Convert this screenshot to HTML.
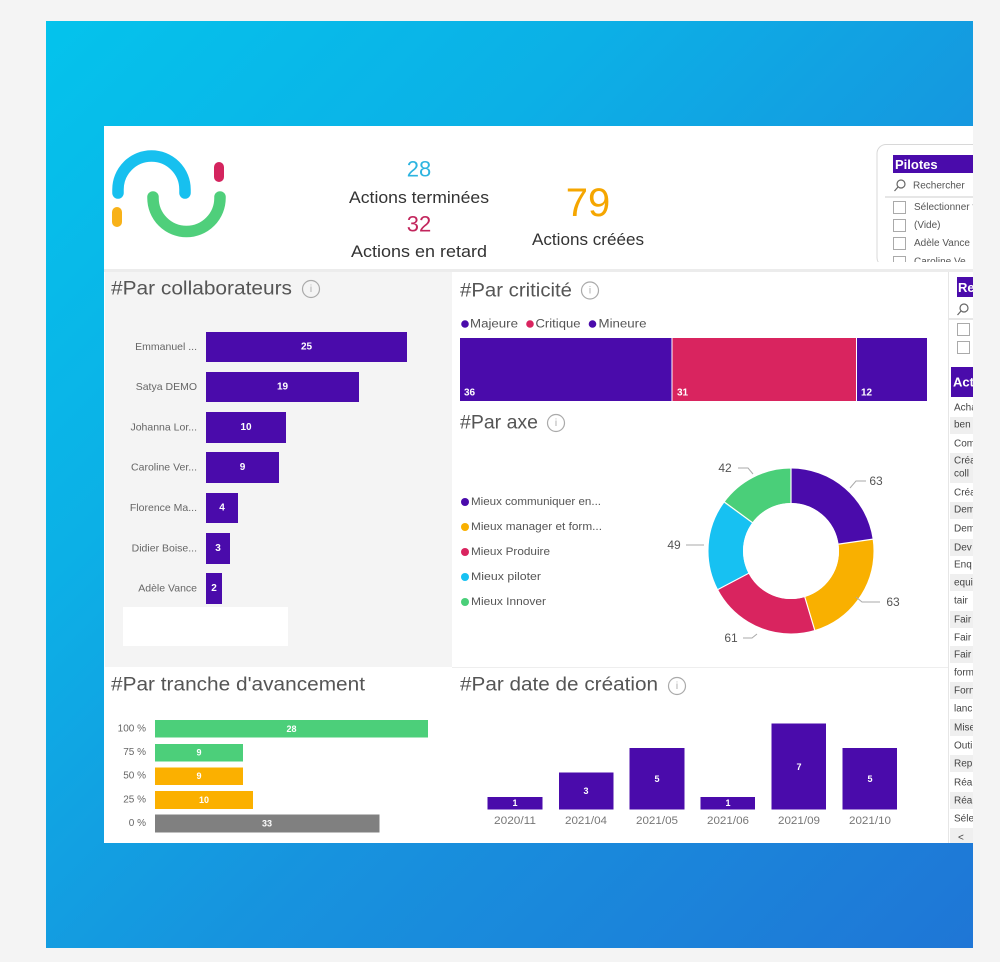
<!DOCTYPE html>
<html><head><meta charset="utf-8"><style>
*{margin:0;padding:0;box-sizing:border-box}
html,body{width:1000px;height:962px;background:#f4f4f4;overflow:hidden}
svg{display:block}
</style></head><body>
<svg width="1000" height="962" viewBox="0 0 1000 962" font-family="Liberation Sans, sans-serif">
<defs>
<linearGradient id="bg" x1="0" y1="0" x2="1" y2="1">
<stop offset="0" stop-color="#04c3ec"/>
<stop offset="0.3" stop-color="#0cb0e6"/>
<stop offset="0.6" stop-color="#1793de"/>
<stop offset="1" stop-color="#1f76d6"/>
</linearGradient>
<clipPath id="c"><rect x="104" y="126" width="869" height="717"/></clipPath>
</defs>
<rect width="1000" height="962" fill="#f4f4f4"/>
<rect x="46" y="21" width="927" height="927" fill="url(#bg)"/>
<g clip-path="url(#c)">
<rect x="104" y="126" width="869" height="717" fill="#fff"/>

<!-- logo -->
<path d="M118,193 L118,189.5 A33.5,33.5 0 0 1 185,189.5 L185,193" stroke="#17c0ef" stroke-width="11.5" fill="none" stroke-linecap="round"/>
<path d="M153,197 L153,198 A33.5,33.5 0 0 0 220,198 L220,197" stroke="#4fcf7b" stroke-width="11.5" fill="none" stroke-linecap="round"/>
<line x1="219" y1="167" x2="219" y2="177" stroke="#d4245e" stroke-width="10" stroke-linecap="round"/>
<line x1="117" y1="212" x2="117" y2="222" stroke="#f8b219" stroke-width="10" stroke-linecap="round"/>

<!-- KPIs -->
<g text-anchor="middle" dominant-baseline="central">
<text x="419" y="169" font-size="22" fill="#2db4e0">28</text>
<text x="419" y="198" font-size="16.5" fill="#333" textLength="140" lengthAdjust="spacingAndGlyphs">Actions terminées</text>
<text x="419" y="224" font-size="22" fill="#c2255c">32</text>
<text x="419" y="252" font-size="16.5" fill="#333" textLength="136" lengthAdjust="spacingAndGlyphs">Actions en retard</text>
<text x="588" y="203" font-size="40" fill="#f5a600">79</text>
<text x="588" y="240" font-size="16.5" fill="#333" textLength="112" lengthAdjust="spacingAndGlyphs">Actions créées</text>
</g>

<!-- Pilotes slicer -->
<rect x="877" y="144.5" width="130" height="122" rx="9" fill="#fff" stroke="#d8d8d8"/>
<rect x="893" y="155" width="90" height="18" fill="#4a0bab"/>
<text x="895" y="164.5" font-size="13" font-weight="bold" fill="#fff" dominant-baseline="central">Pilotes</text>
<circle cx="901" cy="184" r="4" fill="none" stroke="#666" stroke-width="1.2"/>
<line x1="898" y1="187" x2="894.5" y2="191" stroke="#666" stroke-width="1.2"/>
<text x="913" y="186" font-size="10" fill="#555" dominant-baseline="central">Rechercher</text>
<line x1="885" y1="197" x2="973" y2="197" stroke="#ccc"/>
<g fill="#fff" stroke="#aaa">
<rect x="893.5" y="201.5" width="12" height="12"/>
<rect x="893.5" y="219.5" width="12" height="12"/>
<rect x="893.5" y="237.5" width="12" height="12"/>
<rect x="893.5" y="256.5" width="12" height="12"/>
</g>
<g font-size="10" fill="#555" dominant-baseline="central">
<text x="914" y="207.5">Sélectionner tout</text>
<text x="914" y="225.5">(Vide)</text>
<text x="914" y="243.5">Adèle Vance</text>
<text x="914" y="262">Caroline Ve</text>
</g>
<rect x="877" y="262" width="100" height="8" fill="#fff"/>

<!-- separators -->
<rect x="104" y="269" width="869" height="3" fill="#ececec"/>
<line x1="948.5" y1="272" x2="948.5" y2="843" stroke="#e6e6e6"/>
<line x1="452" y1="667.5" x2="948" y2="667.5" stroke="#eeeeee"/>

<!-- Left gray panel -->
<rect x="105" y="272" width="347" height="395" fill="#f4f4f4"/>
<text x="111" y="289" font-size="19" fill="#555" dominant-baseline="central" textLength="181" lengthAdjust="spacingAndGlyphs">#Par collaborateurs</text>
<circle cx="311" cy="289" r="8.5" fill="none" stroke="#aaa" stroke-width="1.2"/>
<text x="311" y="289.5" font-size="10" fill="#aaa" text-anchor="middle" dominant-baseline="central">i</text>

<g fill="#4a0bab">
<rect x="206" y="332" width="201" height="30"/>
<rect x="206" y="372" width="153" height="30"/>
<rect x="206" y="412" width="80" height="31"/>
<rect x="206" y="452" width="73" height="31"/>
<rect x="206" y="493" width="32" height="30"/>
<rect x="206" y="533" width="24" height="31"/>
<rect x="206" y="573" width="16" height="31"/>
</g>
<g font-size="10.5" fill="#666" text-anchor="end" dominant-baseline="central">
<text x="197" y="347">Emmanuel ...</text>
<text x="197" y="387">Satya DEMO</text>
<text x="197" y="427.5">Johanna Lor...</text>
<text x="197" y="467.5">Caroline Ver...</text>
<text x="197" y="508">Florence Ma...</text>
<text x="197" y="548.5">Didier Boise...</text>
<text x="197" y="588.5">Adèle Vance</text>
</g>
<g font-size="10" font-weight="bold" fill="#fff" text-anchor="middle" dominant-baseline="central">
<text x="306.5" y="347">25</text>
<text x="282.5" y="387">19</text>
<text x="246" y="427.5">10</text>
<text x="242.5" y="467.5">9</text>
<text x="222" y="508">4</text>
<text x="218" y="548.5">3</text>
<text x="214" y="588.5">2</text>
</g>
<rect x="123" y="607" width="165" height="39" fill="#fff"/>

<!-- Criticité -->
<text x="460" y="291" font-size="19" fill="#555" dominant-baseline="central" textLength="112" lengthAdjust="spacingAndGlyphs">#Par criticité</text>
<circle cx="590" cy="290.5" r="8.5" fill="none" stroke="#aaa" stroke-width="1.2"/>
<text x="590" y="291" font-size="10" fill="#aaa" text-anchor="middle" dominant-baseline="central">i</text>
<circle cx="465" cy="324" r="3.8" fill="#4a0bab"/>
<circle cx="530" cy="324" r="3.8" fill="#d9245f"/>
<circle cx="592.5" cy="324" r="3.8" fill="#4a0bab"/>
<g font-size="11.5" fill="#555" dominant-baseline="central">
<text x="470" y="324.5" textLength="48" lengthAdjust="spacingAndGlyphs">Majeure</text>
<text x="535.5" y="324.5" textLength="45" lengthAdjust="spacingAndGlyphs">Critique</text>
<text x="598.5" y="324.5" textLength="48" lengthAdjust="spacingAndGlyphs">Mineure</text>
</g>
<rect x="460" y="338" width="211.5" height="63" fill="#4a0bab"/>
<rect x="672.5" y="338" width="183.5" height="63" fill="#d9245f"/>
<rect x="857" y="338" width="70" height="63" fill="#4a0bab"/>
<g font-size="10" font-weight="bold" fill="#fff" dominant-baseline="central">
<text x="464" y="393">36</text>
<text x="677" y="393">31</text>
<text x="861" y="393">12</text>
</g>

<!-- Par axe -->
<text x="460" y="423" font-size="19" fill="#555" dominant-baseline="central" textLength="78" lengthAdjust="spacingAndGlyphs">#Par axe</text>
<circle cx="556" cy="423" r="8.5" fill="none" stroke="#aaa" stroke-width="1.2"/>
<text x="556" y="423.5" font-size="10" fill="#aaa" text-anchor="middle" dominant-baseline="central">i</text>
<g font-size="11" fill="#555" dominant-baseline="central">
<circle cx="465" cy="502" r="4" fill="#4a0bab"/><text x="471" y="502" textLength="130" lengthAdjust="spacingAndGlyphs">Mieux communiquer en...</text>
<circle cx="465" cy="527" r="4" fill="#f9b000"/><text x="471" y="527" textLength="131" lengthAdjust="spacingAndGlyphs">Mieux manager et form...</text>
<circle cx="465" cy="552" r="4" fill="#d9245f"/><text x="471" y="552" textLength="79" lengthAdjust="spacingAndGlyphs">Mieux Produire</text>
<circle cx="465" cy="577" r="4" fill="#17c1f2"/><text x="471" y="577" textLength="70" lengthAdjust="spacingAndGlyphs">Mieux piloter</text>
<circle cx="465" cy="602" r="4" fill="#4acf79"/><text x="471" y="602" textLength="75" lengthAdjust="spacingAndGlyphs">Mieux Innover</text>
</g>
<g transform="rotate(-90 791 551)" fill="none" stroke-width="34.5">
<circle cx="791" cy="551" r="65.25" stroke="#4a0bab" stroke-dasharray="92.91 317.07" stroke-dashoffset="0"/>
<circle cx="791" cy="551" r="65.25" stroke="#f9b000" stroke-dasharray="92.91 317.07" stroke-dashoffset="-92.91"/>
<circle cx="791" cy="551" r="65.25" stroke="#d9245f" stroke-dasharray="89.96 320.02" stroke-dashoffset="-185.82"/>
<circle cx="791" cy="551" r="65.25" stroke="#17c1f2" stroke-dasharray="72.27 337.71" stroke-dashoffset="-275.78"/>
<circle cx="791" cy="551" r="65.25" stroke="#4acf79" stroke-dasharray="61.94 348.04" stroke-dashoffset="-348.05"/>
</g>
<g stroke="#fff" stroke-width="1.2">
<line x1="791" y1="551" x2="791" y2="467"/>
<line x1="791" y1="551" x2="874" y2="539"/>
<line x1="791" y1="551" x2="815" y2="631"/>
<line x1="791" y1="551" x2="717" y2="590"/>
<line x1="791" y1="551" x2="723" y2="501"/>
</g>
<circle cx="791" cy="551" r="48" fill="#fff"/>
<g stroke="#aaa" stroke-width="1" fill="none">
<polyline points="850,488 856,481 866,481"/>
<polyline points="856,597 862,602 880,602"/>
<polyline points="757,634 752,638 743,638"/>
<polyline points="704,545 686,545"/>
<polyline points="738,468 748,468 753,474"/>
</g>
<g font-size="12" fill="#555" dominant-baseline="central" text-anchor="middle">
<text x="876" y="481">63</text>
<text x="893" y="602">63</text>
<text x="731" y="638">61</text>
<text x="674" y="545">49</text>
<text x="725" y="468">42</text>
</g>

<!-- Tranche d'avancement -->
<text x="111" y="685" font-size="19" fill="#555" dominant-baseline="central" textLength="254" lengthAdjust="spacingAndGlyphs">#Par tranche d'avancement</text>
<rect x="155" y="720" width="273" height="17.5" fill="#4ccf7a"/>
<rect x="155" y="744" width="88" height="17.5" fill="#4ccf7a"/>
<rect x="155" y="767.5" width="88" height="17.5" fill="#fbb000"/>
<rect x="155" y="791" width="98" height="18" fill="#fbb000"/>
<rect x="155" y="814.5" width="224.5" height="18" fill="#808080"/>
<g font-size="10" fill="#666" text-anchor="end" dominant-baseline="central">
<text x="146" y="729">100 %</text>
<text x="146" y="752.5">75 %</text>
<text x="146" y="776">50 %</text>
<text x="146" y="800">25 %</text>
<text x="146" y="823.5">0 %</text>
</g>
<g font-size="9" font-weight="bold" fill="#fff" text-anchor="middle" dominant-baseline="central">
<text x="291.5" y="729">28</text>
<text x="199" y="752.5">9</text>
<text x="199" y="776">9</text>
<text x="204" y="800">10</text>
<text x="267" y="823.5">33</text>
</g>

<!-- Par date de création -->
<text x="460" y="685" font-size="19" fill="#555" dominant-baseline="central" textLength="198" lengthAdjust="spacingAndGlyphs">#Par date de création</text>
<circle cx="677" cy="686" r="8.5" fill="none" stroke="#aaa" stroke-width="1.2"/>
<text x="677" y="686.5" font-size="10" fill="#aaa" text-anchor="middle" dominant-baseline="central">i</text>
<g fill="#4a0bab">
<rect x="487.5" y="797" width="55" height="12.5"/>
<rect x="559" y="772.5" width="54.5" height="37"/>
<rect x="629.5" y="748" width="55" height="61.5"/>
<rect x="700.5" y="797" width="54.5" height="12.5"/>
<rect x="771.5" y="723.5" width="54.5" height="86"/>
<rect x="842.5" y="748" width="54.5" height="61.5"/>
</g>
<g font-size="9" font-weight="bold" fill="#fff" text-anchor="middle" dominant-baseline="central">
<text x="515" y="803">1</text>
<text x="586" y="791">3</text>
<text x="657" y="779">5</text>
<text x="728" y="803">1</text>
<text x="799" y="767">7</text>
<text x="870" y="779">5</text>
</g>
<g font-size="11" fill="#777" text-anchor="middle" dominant-baseline="central">
<text x="515" y="821" textLength="42" lengthAdjust="spacingAndGlyphs">2020/11</text>
<text x="586" y="821" textLength="42" lengthAdjust="spacingAndGlyphs">2021/04</text>
<text x="657" y="821" textLength="42" lengthAdjust="spacingAndGlyphs">2021/05</text>
<text x="728" y="821" textLength="42" lengthAdjust="spacingAndGlyphs">2021/06</text>
<text x="799" y="821" textLength="42" lengthAdjust="spacingAndGlyphs">2021/09</text>
<text x="870" y="821" textLength="42" lengthAdjust="spacingAndGlyphs">2021/10</text>
</g>

<!-- Right column (clipped) -->
<rect x="957" y="277" width="30" height="20" fill="#4a0bab"/>
<text x="958" y="287.5" font-size="13" font-weight="bold" fill="#fff" dominant-baseline="central">Re</text>
<circle cx="964" cy="308" r="4" fill="none" stroke="#666" stroke-width="1.2"/>
<line x1="961" y1="311" x2="957.5" y2="315" stroke="#666" stroke-width="1.2"/>
<line x1="949" y1="319" x2="973" y2="319" stroke="#ccc"/>
<rect x="957.5" y="323.5" width="12" height="12" fill="#fff" stroke="#aaa"/>
<rect x="957.5" y="341.5" width="12" height="12" fill="#fff" stroke="#aaa"/>
<rect x="951" y="367" width="30" height="30" fill="#4a0bab"/>
<text x="953" y="382" font-size="13" font-weight="bold" fill="#fff" dominant-baseline="central">Act</text>
<g fill="#efefef">
<rect x="950" y="417" width="23" height="17"/>
<rect x="950" y="453" width="23" height="30"/>
<rect x="950" y="502" width="23" height="17"/>
<rect x="950" y="539" width="23" height="17"/>
<rect x="950" y="574" width="23" height="17"/>
<rect x="950" y="611" width="23" height="17"/>
<rect x="950" y="646" width="23" height="17"/>
<rect x="950" y="682" width="23" height="17"/>
<rect x="950" y="719" width="23" height="17"/>
<rect x="950" y="755" width="23" height="17"/>
<rect x="950" y="792" width="23" height="17"/>
<rect x="950" y="828" width="23" height="17"/>
</g>
<g font-size="10" fill="#444" dominant-baseline="central">
<text x="954" y="408">Achat</text>
<text x="954" y="425">ben</text>
<text x="954" y="444">Com</text>
<text x="954" y="461">Créa</text>
<text x="954" y="474">coll</text>
<text x="954" y="493">Créa</text>
<text x="954" y="510">Dem</text>
<text x="954" y="529">Dem</text>
<text x="954" y="548">Dev</text>
<text x="954" y="565">Enq</text>
<text x="954" y="583">equi</text>
<text x="954" y="601">tair</text>
<text x="954" y="620">Fair</text>
<text x="954" y="638">Fair</text>
<text x="954" y="655">Fair</text>
<text x="954" y="673">form</text>
<text x="954" y="691">Forn</text>
<text x="954" y="709">lanc</text>
<text x="954" y="728">Mise</text>
<text x="954" y="746">Outi</text>
<text x="954" y="764">Rep</text>
<text x="954" y="783">Réa</text>
<text x="954" y="801">Réa</text>
<text x="954" y="819">Séle</text>
<text x="958" y="838">&lt;</text>
</g>
</g>
</svg>
</body></html>
